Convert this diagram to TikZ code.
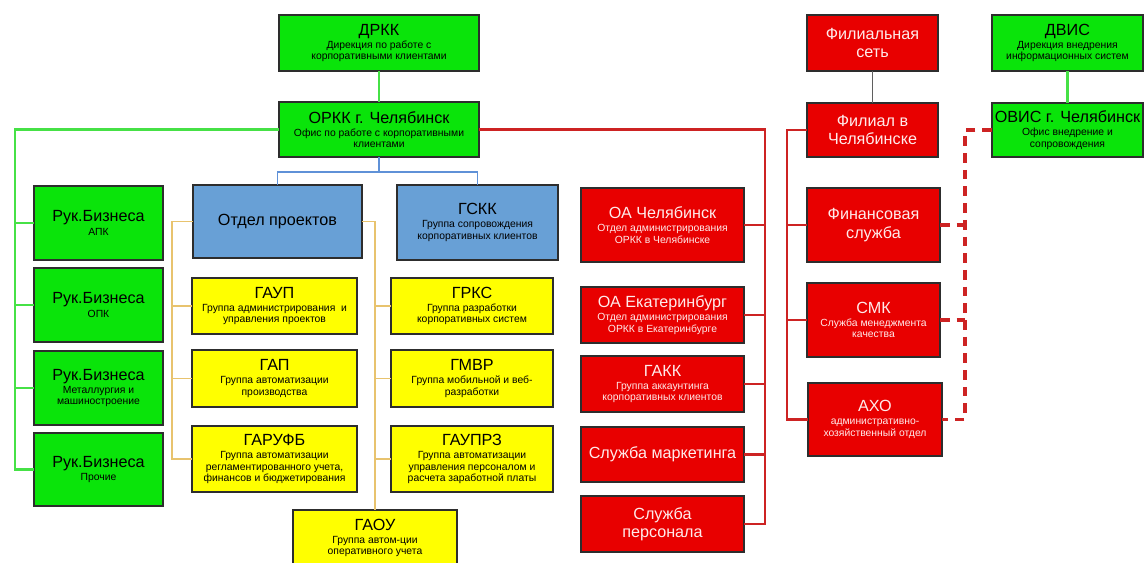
\documentclass[tikz,border=0pt]{standalone}
\usepackage{fontspec}
\setmainfont{Liberation Sans}
\definecolor{gfill}{RGB}{10,228,10}
\definecolor{rfill}{RGB}{232,0,0}
\definecolor{bfill}{RGB}{104,160,214}
\definecolor{yfill}{RGB}{255,255,0}
\definecolor{bord}{RGB}{45,45,45}
\definecolor{gline}{RGB}{70,225,70}
\definecolor{rline}{RGB}{205,35,35}
\definecolor{bline}{RGB}{95,145,215}
\definecolor{yline}{RGB}{232,195,110}
\definecolor{grline}{RGB}{95,95,95}
\definecolor{rtext}{RGB}{255,235,235}
\newcommand\sbt{\fontsize{5.9}{7}\selectfont}
\newcommand\bx[7]{%
  \pgfmathsetmacro\bw{(#5-#3)*0.02}\pgfmathsetmacro\bh{(#6-#4)*0.02}%
  \node[#1, minimum width=\bw cm, minimum height=\bh cm] (#2) at ({(#3+#5)/2},{(#4+#6)/2}) {#7};}
\tikzset{
  boxbase/.style={draw=bord, line width=0.8pt, rectangle, inner sep=0pt, outer sep=0pt, align=center,
    font=\fontsize{9.2}{10.5}\selectfont},
  gbox/.style={boxbase, fill=gfill, text=black},
  rbox/.style={boxbase, fill=rfill, text=rtext},
  bbox/.style={boxbase, fill=bfill, text=black},
  ybox/.style={boxbase, fill=yfill, text=black},
  gconn/.style={draw=gline, line width=1.6pt},
  rconn/.style={draw=rline, line width=1.5pt},
  bconn/.style={draw=bline, line width=1.1pt},
  yconn/.style={draw=yline, line width=1.1pt},
  grconn/.style={draw=grline, line width=1.1pt},
  dconn/.style={draw=rline, line width=1.9pt, dash pattern=on 5.5pt off 4pt},
}
\begin{document}
\begin{tikzpicture}[x=0.02cm,y=-0.02cm]
\useasboundingbox (0,0) rectangle (1147,562);
% top
\bx{gbox}{drkk}{279}{15}{479}{71}{ДРКК\\[-3pt]{\sbt Дирекция по работе с}\\[-4pt]{\sbt корпоративными клиентами}}
\bx{gbox}{orkk}{279}{102}{479}{157}{ОРКК г. Челябинск\\[-3pt]{\sbt Офис по работе с корпоративными}\\[-4pt]{\sbt клиентами}}
% green left
\bx{gbox}{rb1}{34}{186}{163}{260}{Рук.Бизнеса\\[-3pt]{\sbt АПК}}
\bx{gbox}{rb2}{34}{268}{163}{342}{Рук.Бизнеса\\[-3pt]{\sbt ОПК}}
\bx{gbox}{rb3}{34}{351}{163}{425}{Рук.Бизнеса\\[-3pt]{\sbt Металлургия и}\\[-4pt]{\sbt машиностроение}}
\bx{gbox}{rb4}{34}{433}{163}{506}{Рук.Бизнеса\\[-3pt]{\sbt Прочие}}
% blue
\bx{bbox}{otdel}{193}{185}{362}{258}{Отдел проектов}
\bx{bbox}{gskk}{397}{185}{558}{260}{ГСКК\\[-3pt]{\sbt Группа сопровождения}\\[-4pt]{\sbt корпоративных клиентов}}
% yellow
\bx{ybox}{gaup}{192}{278}{357}{334}{ГАУП\\[-3pt]{\sbt Группа администрирования\ \ и}\\[-4pt]{\sbt управления проектов}}
\bx{ybox}{gap}{192}{350}{357}{407}{ГАП\\[-3pt]{\sbt Группа автоматизации}\\[-4pt]{\sbt производства}}
\bx{ybox}{garufb}{192}{426}{357}{492}{ГАРУФБ\\[-3pt]{\sbt Группа автоматизации}\\[-4pt]{\sbt регламентированного учета,}\\[-4pt]{\sbt финансов и бюджетирования}}
\bx{ybox}{grks}{391}{278}{553}{334}{ГРКС\\[-3pt]{\sbt Группа разработки}\\[-4pt]{\sbt корпоративных систем}}
\bx{ybox}{gmvr}{391}{350}{553}{407}{ГМВР\\[-3pt]{\sbt Группа мобильной и веб-}\\[-4pt]{\sbt разработки}}
\bx{ybox}{gauprz}{391}{426}{553}{492}{ГАУПРЗ\\[-3pt]{\sbt Группа автоматизации}\\[-4pt]{\sbt управления персоналом и}\\[-4pt]{\sbt расчета заработной платы}}
\bx{ybox}{gaou}{293}{510}{457}{566}{ГАОУ\\[-3pt]{\sbt Группа автом-ции}\\[-4pt]{\sbt оперативного учета}}
% red middle
\bx{rbox}{oa1}{581}{188}{744}{262}{ОА Челябинск\\[-3pt]{\sbt Отдел администрирования}\\[-4pt]{\sbt ОРКК в Челябинске}}
\bx{rbox}{oa2}{581}{287}{744}{343}{ОА Екатеринбург\\[-3pt]{\sbt Отдел администрирования}\\[-4pt]{\sbt ОРКК в Екатеринбурге}}
\bx{rbox}{gakk}{581}{356}{744}{412}{ГАКК\\[-3pt]{\sbt Группа аккаунтинга}\\[-4pt]{\sbt корпоративных клиентов}}
\bx{rbox}{smark}{581}{427}{744}{482}{Служба маркетинга}
\bx{rbox}{spers}{581}{496}{744}{552}{Служба\\персонала}
% red right
\bx{rbox}{fset}{807}{15}{938}{71}{Филиальная\\сеть}
\bx{rbox}{fil}{807}{103}{938}{157}{Филиал в\\Челябинске}
\bx{rbox}{fin}{807}{188}{940}{262}{Финансовая\\служба}
\bx{rbox}{smk}{807}{283}{940}{357}{СМК\\[-3pt]{\sbt Служба менеджмента}\\[-4pt]{\sbt качества}}
\bx{rbox}{axo}{808}{383}{942}{456}{АХО\\[-3pt]{\sbt административно-}\\[-4pt]{\sbt хозяйственный отдел}}
% right green
\bx{gbox}{dvis}{992}{15}{1143}{71}{ДВИС\\[-3pt]{\sbt Дирекция внедрения}\\[-4pt]{\sbt информационных систем}}
\bx{gbox}{ovis}{992}{103}{1143}{157}{ОВИС г. Челябинск\\[-3pt]{\sbt Офис внедрение и}\\[-4pt]{\sbt сопровождения}}
% coordinates
\coordinate (gx) at (15,0);
\coordinate (bj) at (379,172);
\coordinate (yl) at (172,0);
\coordinate (rx) at (765,0);
\coordinate (fx) at (787,0);
\coordinate (dx) at (965,0);
% connectors
\path[gconn] (drkk.south) -- (orkk.north);
\path[gconn] (orkk.west) -| (gx|-rb4.west) -- (rb4.west);
\foreach \n in {rb1,rb2,rb3} \path[gconn] (gx|-\n.west) -- (\n.west);
\path[bconn] (orkk.south) -- (bj);
\path[bconn] (otdel.north) |- (bj) -| (gskk.north);
\path[yconn] (otdel.west) -| (yl|-garufb.west) -- (garufb.west);
\foreach \n in {gaup,gap} \path[yconn] (yl|-\n.west) -- (\n.west);
\path[yconn] (otdel.east) -| (gaou.north);
\foreach \n in {grks,gmvr,gauprz} \path[yconn] (\n.west) -- (\n.west -| gaou.north);
\path[rconn] (orkk.east) -| (rx|-spers.east) -- (spers.east);
\foreach \n in {oa1,oa2,gakk,smark} \path[rconn] (\n.east) -- (\n.east -| rx);
\path[grconn] (fset.south) -- (fil.north);
\path[rconn] (fil.west) -| (fx|-axo.west) -- (axo.west);
\foreach \n in {fin,smk} \path[rconn] (fx|-\n.west) -- (\n.west);
\path[gconn] (dvis.south) -- (ovis.north);
\path[dconn] (ovis.west) -| (dx|-axo.east) -- (axo.east);
\foreach \n in {fin,smk} \path[dconn] (\n.east) -- (\n.east -| dx);
\end{tikzpicture}
\end{document}
